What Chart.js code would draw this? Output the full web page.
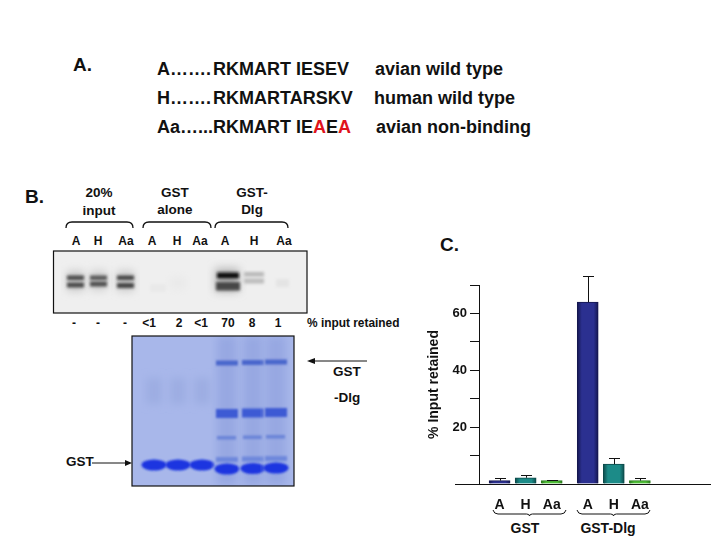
<!DOCTYPE html>
<html>
<head>
<meta charset="utf-8">
<style>
html,body{margin:0;padding:0;background:#fff;width:720px;height:540px;overflow:hidden}
#art,#c{position:absolute;left:0;top:0}
text{font-family:"Liberation Sans",Arial,sans-serif;font-weight:bold;fill:#111}
</style>
<script src="https://cdn.jsdelivr.net/npm/chart.js@4"></script>
</head>
<body>
<svg id="art" width="720" height="540" viewBox="0 0 720 540"></svg>
<canvas id="c" width="720" height="540"></canvas>
<script>
// ---- chart data (panel C) ----
const categories = ['A','H','Aa','A','H','Aa'];
const retained   = [1.2, 2.2, 1.2, 64, 7, 1.2];
const errorTops  = [2.1, 3.2, 1.5, 73, 9, 2.1];
const barColors  = ['#2b3090','#1c8b88','#4fbf38','#2b3090','#1c8b88','#4fbf38'];
const barEdges   = ['#14164f','#0c4a4a','#2a7a1c','#14164f','#0c4a4a','#2a7a1c'];
const yTickLabels = [20,40,60];
const yTitle = '% Input retained';

// ---- panel text ----
const sequences = [
  ['A…….','RKMART IESEV','avian wild type',375,75],
  ['H…….','RKMARTARSKV','human wild type',374,104]
];
const laneLabelsB = [['A',76],['H',98],['Aa',126],['A',152],['H',177],['Aa',200],['A',225],['H',254],['Aa',284]];
const percentB = [['-',74],['-',98],['-',125],['<1',149],['2',179],['<1',201],['70',228],['8',252],['1',278]];

const svg = document.getElementById('art');
const NS = 'http://www.w3.org/2000/svg';
function el(name, attrs, parent){
  const e = document.createElementNS(NS, name);
  for (const k in attrs) e.setAttribute(k, attrs[k]);
  (parent||svg).appendChild(e);
  return e;
}
function txt(s,x,y,size,anchor,parent){
  const t = el('text',{x:x,y:y,'font-size':size,'text-anchor':anchor||'start'},parent);
  t.textContent = s;
  return t;
}

// blur filters
const defs = el('defs',{});
[['b1',1.5],['b2',1.3],['b3',4],['b4',1.0]].forEach(([id,s])=>{
  const f = el('filter',{id:id,x:'-30%',y:'-100%',width:'160%',height:'300%'},defs);
  el('feGaussianBlur',{stdDeviation:s},f);
});
const clip1 = el('clipPath',{id:'g1'},defs); el('rect',{x:53,y:251,width:254,height:62},clip1);
const clip2 = el('clipPath',{id:'g2'},defs); el('rect',{x:132,y:336,width:162,height:150},clip2);

// panel A
txt('A.',73,71,19);
sequences.forEach(s=>{
  const t = txt(s[0],157,s[4],18);
  const b = el('tspan',{dx:2},t); b.textContent = s[1];
  txt(s[2],s[3],s[4],18);
});
const t3 = txt('Aa…...RKMART IE',157,133,18);
[['A','#e0141c'],['E','#111'],['A','#e0141c']].forEach(p=>{
  const sp = el('tspan',{},t3); sp.textContent=p[0]; sp.style.fill=p[1];
});
txt('avian non-binding',376,133,18);

// panel B headings
txt('B.',25,203,19);
[['20%',99,197],['input',99,215],['GST',175,197],['alone',175,214],['GST-',252,197],['Dlg',252,214]]
  .forEach(a=>txt(a[0],a[1],a[2],13.5,'middle'));
[[66,133],[143,211],[215,288]].forEach(([a,b])=>{
  el('path',{d:`M${a} 228 Q${a} 222 ${a+6} 222 L${b-6} 222 Q${b} 222 ${b} 228`,fill:'none',stroke:'#111','stroke-width':1.3});
});
laneLabelsB.forEach(a=>txt(a[0],a[1],245,12,'middle'));
percentB.forEach(a=>txt(a[0],a[1],327,12,'middle'));
txt('% input retained',307,327,11.9);

// autoradiograph
const g1 = el('g',{'clip-path':'url(#g1)'});
el('rect',{x:53,y:251,width:254,height:62,fill:'#efefef'},g1);
const autoBands = [
  [67,271,17,20,'#c8c8c8','b3'],[90,271,17,19,'#cccccc','b3'],[117,271,17,20,'#c8c8c8','b3'],
  [67,275.5,17,4.5,'#484848','b1'],[67,282.5,17,5,'#4a4a4a','b1'],
  [90,275.5,17,4.5,'#565656','b1'],[90,281.5,17,5,'#4e4e4e','b1'],
  [117,275.5,17,4.5,'#424242','b1'],[117,283,17,5,'#424242','b1'],
  [215,268,24,24,'#b8b8b8','b3'],
  [217,272.5,22,6,'#101010','b1'],[216,282,24,8.5,'#464646','b1'],
  [244,272,20,4.5,'#b8b8b8','b1'],[244,278.5,20,5,'#bcbcbc','b1'],
  [276,279,13,8,'#e4e4e4','b1'],[150,284,16,8,'#e9e9e9','b1'],[170,277,16,12,'#e9e9e9','b3']
];
autoBands.forEach(b=>el('rect',{x:b[0],y:b[1],width:b[2],height:b[3],fill:b[4],filter:`url(#${b[5]})`},g1));
el('rect',{x:53.5,y:251,width:253.5,height:62,fill:'none',stroke:'#111','stroke-width':1.2});

// coomassie gel
const g2 = el('g',{'clip-path':'url(#g2)'});
el('rect',{x:132,y:336,width:162,height:150,fill:'#a8b7ea'},g2);
const lanes1 = [143,167,191], lanes2 = [216,242,265], laneW = 22;
lanes1.forEach(x=>{
  el('rect',{x:x+3,y:378,width:laneW-6,height:26,fill:'#9dade2',filter:'url(#b3)'},g2);
  el('ellipse',{cx:x+laneW/2,cy:465,rx:laneW/2+1.5,ry:5.5,fill:'#1e36e0',filter:'url(#b4)'},g2);
});
lanes2.forEach((x,i)=>{
  const up=[0,-0.5,-1][i];
  el('rect',{x:x+1,y:336,width:laneW-2,height:150,fill:'#97a8e2',filter:'url(#b3)'},g2);
  el('rect',{x:x,y:360.5+up,width:laneW,height:5,fill:'#4a66cc',filter:'url(#b4)'},g2);
  el('rect',{x:x,y:409+up,width:laneW,height:9,fill:'#3e5ad4',filter:'url(#b2)'},g2);
  el('rect',{x:x+1,y:436+up,width:laneW-3,height:3.5,fill:'#6a84d8',filter:'url(#b4)'},g2);
  el('rect',{x:x,y:457+up,width:laneW,height:5,fill:'#6e88dc',filter:'url(#b4)'},g2);
  el('ellipse',{cx:x+laneW/2,cy:469+up,rx:laneW/2+1.5,ry:5.5,fill:'#1e36e0',filter:'url(#b4)'},g2);
});
el('rect',{x:132,y:336,width:162,height:150,fill:'none',stroke:'#111','stroke-width':1.2});

// gel arrows and labels
el('line',{x1:92,y1:463,x2:126,y2:463,stroke:'#111','stroke-width':1});
el('path',{d:'M132 463 L125 460 L125 466 Z',fill:'#111'});
el('line',{x1:367,y1:361,x2:314,y2:361,stroke:'#111','stroke-width':1});
el('path',{d:'M307 361 L315 358 L315 364 Z',fill:'#111'});
txt('GST',66,466,13.5);
txt('GST',333,376,13.5);
txt('-Dlg',334,402,13.5);

// panel C annotation
txt('C.',440,251,19);
[[493,566,525,'GST'],[577,650,608,'GST-Dlg']].forEach(([a,b,c,s])=>{
  const m=(a+b)/2;
  el('path',{d:`M${a} 510 Q${a+1} 514 ${a+5} 514 L${m-3} 514 Q${m} 514 ${m} 516 Q${m} 514 ${m+3} 514 L${b-5} 514 Q${b-1} 514 ${b} 510`,fill:'none',stroke:'#111','stroke-width':1});
  txt(s,c,533,14,'middle');
});

// ---- Chart.js: bar chart with error bars ----
const groupGap = 0.38;
const xSlots = categories.map((c,i)=> i + (i>=3 ? groupGap : 0));
const points = xSlots.map((x,i)=>({x:x, y:retained[i]}));

const extras = {
  id:'extras',
  afterDatasetsDraw(chart){
    const {ctx,scales:{x,y},chartArea:a} = chart;
    ctx.save();
    ctx.strokeStyle='#111'; ctx.lineWidth=1;
    ctx.beginPath();
    ctx.moveTo(a.left-24,a.bottom+0.5); ctx.lineTo(a.left,a.bottom+0.5);
    xSlots.forEach((s,i)=>{
      const px=Math.round(x.getPixelForValue(s))+0.5;
      const top=Math.round(y.getPixelForValue(errorTops[i]))+0.5;
      const base=y.getPixelForValue(retained[i]);
      ctx.moveTo(px,base); ctx.lineTo(px,top);
      ctx.moveTo(px-5.5,top); ctx.lineTo(px+5.5,top);
    });
    ctx.stroke();
    ctx.restore();
  }
};

new Chart(document.getElementById('c'),{
  type:'bar',
  data:{
    labels:categories,
    datasets:[{
      data:points,
      barThickness:21,
      borderWidth:1,
      borderColor:c=>barEdges[c.dataIndex],
      backgroundColor:c=>{
        const ch=c.chart;
        if(!ch.chartArea) return barColors[c.dataIndex];
        const cx=ch.scales.x.getPixelForValue(xSlots[c.dataIndex]);
        const g=ch.ctx.createLinearGradient(cx-10.5,0,cx+10.5,0);
        g.addColorStop(0,barEdges[c.dataIndex]);
        g.addColorStop(0.22,barColors[c.dataIndex]);
        g.addColorStop(0.78,barColors[c.dataIndex]);
        g.addColorStop(1,barEdges[c.dataIndex]);
        return g;
      }
    }]
  },
  options:{
    responsive:false,
    animation:false,
    devicePixelRatio:1,
    layout:{padding:{left:425,top:285,right:10,bottom:30}},
    plugins:{legend:{display:false},tooltip:{enabled:false}},
    scales:{
      x:{
        type:'linear',
        offset:false,
        min:-0.79,
        max:8.07,
        afterBuildTicks(s){ s.ticks = xSlots.map(v=>({value:v})); },
        afterFit(s){ s.height=26; },
        grid:{display:false},
        border:{color:'#111',width:1},
        ticks:{
          autoSkip:false,maxRotation:0,padding:5,color:'#111',
          font:{family:'"Liberation Sans",Arial,sans-serif',weight:'bold',size:14},
          callback:v=>categories[xSlots.indexOf(v)]
        }
      },
      y:{
        min:0,max:70,
        afterFit(s){ s.width=54; },
        grid:{drawOnChartArea:false,color:'#111',tickLength:9,tickColor:'#111'},
        border:{color:'#111',width:1},
        ticks:{
          stepSize:10,padding:3,color:'#111',
          font:{family:'"Liberation Sans",Arial,sans-serif',weight:'bold',size:13},
          callback:v=>yTickLabels.includes(v)?String(v):''
        },
        title:{
          display:true,text:yTitle,color:'#111',padding:{top:1,bottom:0},
          font:{family:'"Liberation Sans",Arial,sans-serif',weight:'bold',size:14}
        }
      }
    }
  },
  plugins:[extras]
});
</script>
</body>
</html>
